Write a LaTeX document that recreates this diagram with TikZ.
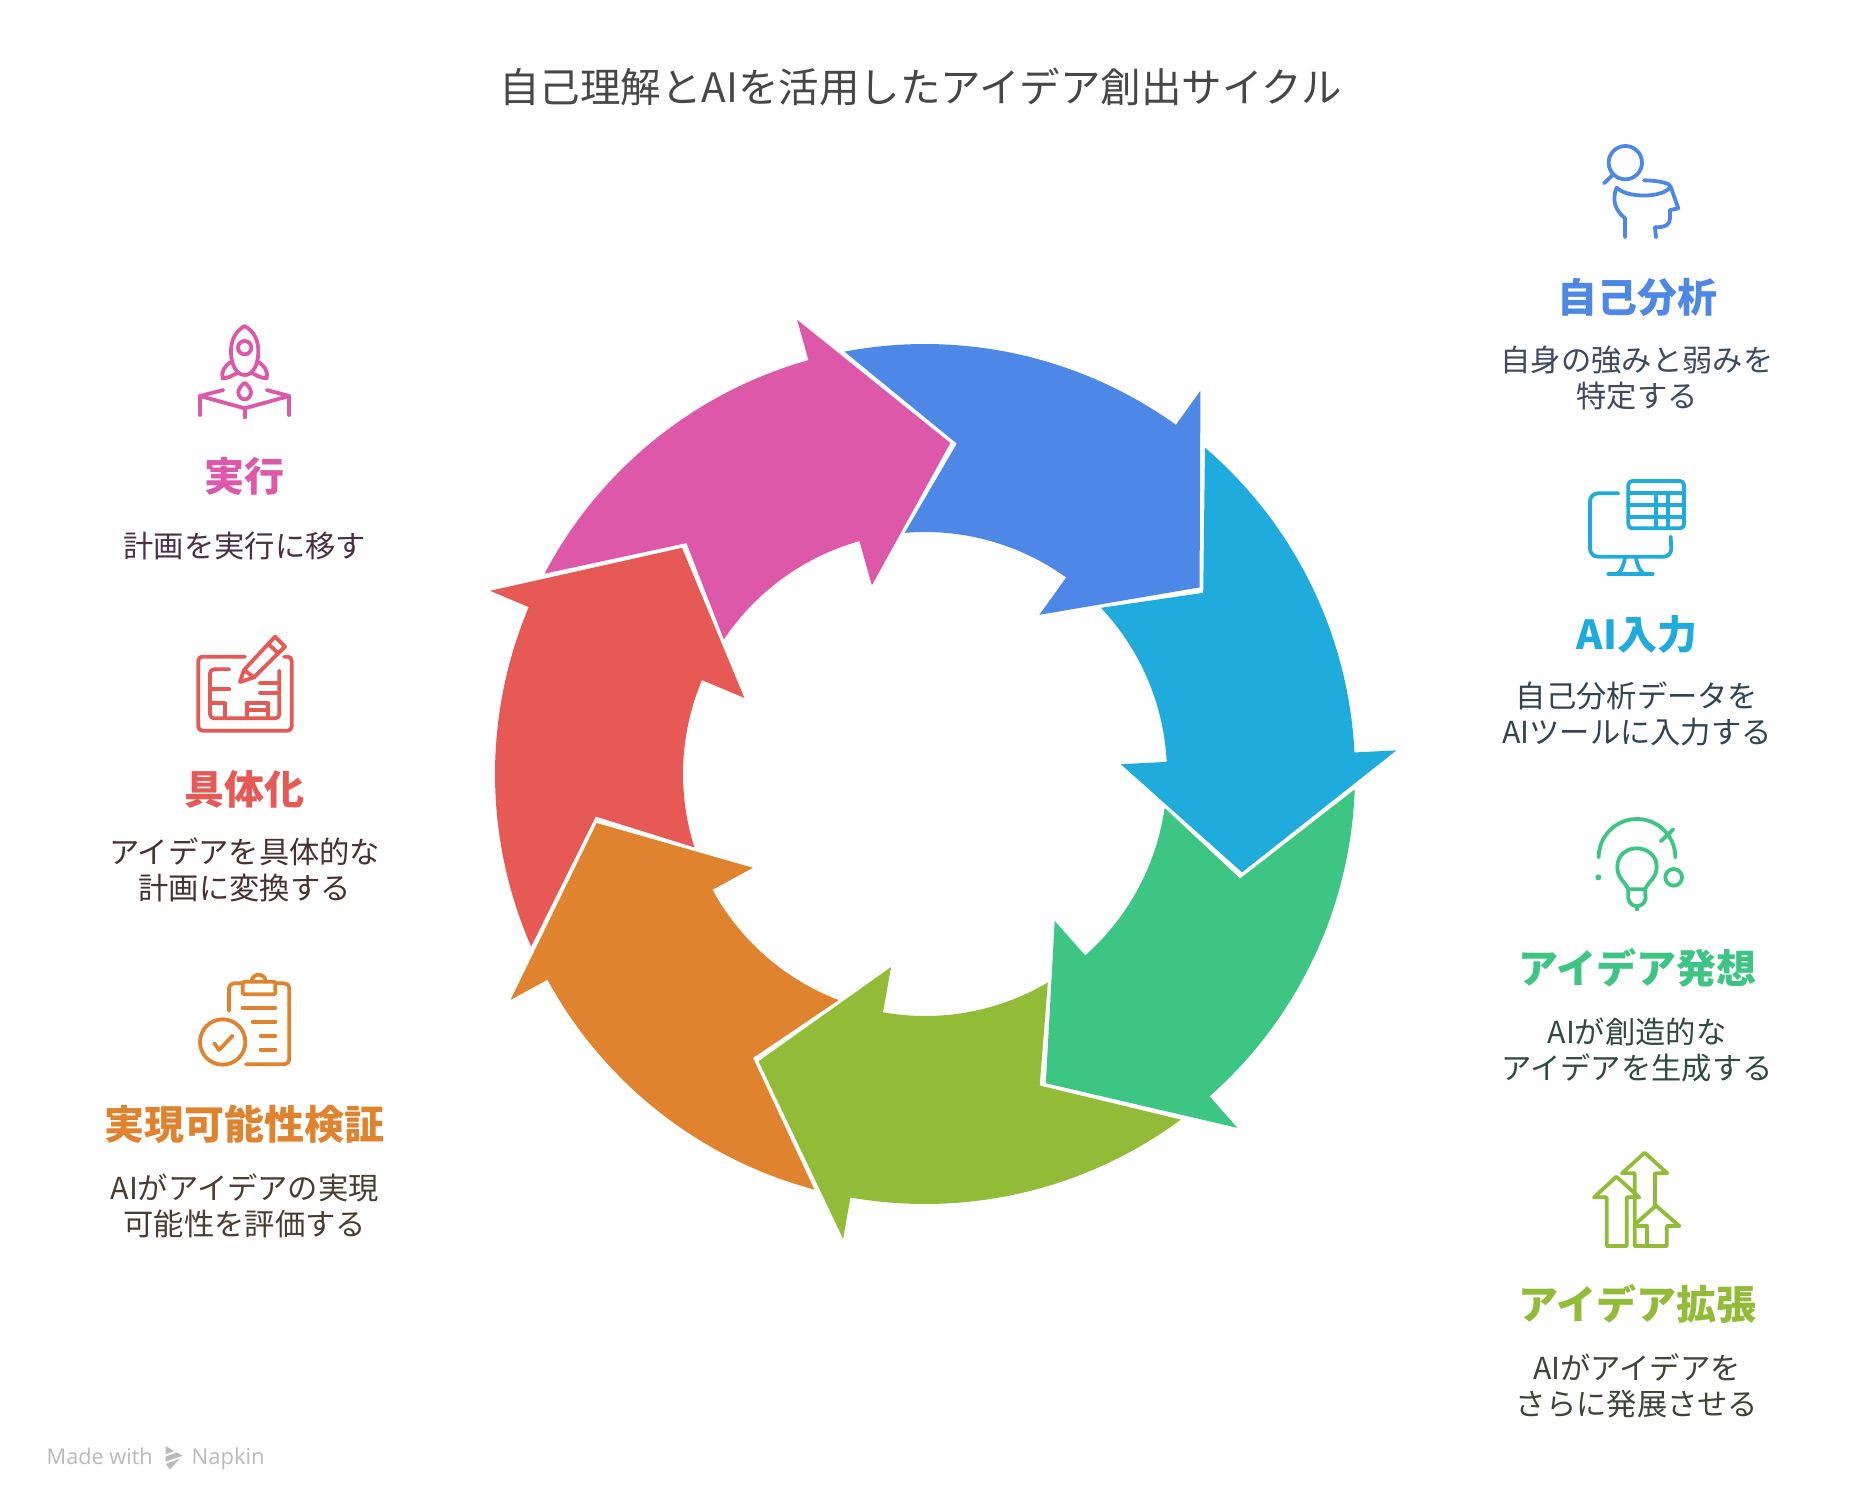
\documentclass[tikz,border=0pt]{standalone}
\usepackage{fontspec}
\setmainfont{Noto Sans CJK JP}
\newfontfamily\latinfont{Open Sans}
\definecolor{cblue}{HTML}{4E88E6}
\definecolor{ccyan}{HTML}{1FABDB}
\definecolor{cgreen}{HTML}{3DC583}
\definecolor{colive}{HTML}{92BC38}
\definecolor{corange}{HTML}{DF832F}
\definecolor{cred}{HTML}{E65955}
\definecolor{cpink}{HTML}{DD58A8}
\definecolor{tblue}{HTML}{3D4A60}
\definecolor{tcyan}{HTML}{2F4552}
\definecolor{tgreen}{HTML}{2F4A42}
\definecolor{tolive}{HTML}{3D4538}
\definecolor{torange}{HTML}{4A3D30}
\definecolor{tred}{HTML}{4A3030}
\definecolor{tpink}{HTML}{4A3040}
\newcommand\cyclearrow[3]{%
  \fill[#1] (#2+67.3:430pt) coordinate (#3tail)
    arc[start angle=#2+67.3,end angle=#2+20.8,radius=430pt]
    -- (#2+20.8:472pt) -- (#2+0.7:332pt) coordinate (#3tip) -- (#2+20.8:196pt) -- (#2+20.8:242pt)
    arc[start angle=#2+20.8,end angle=#2+61.3,radius=242pt]
    -- (#2+51:332pt) -- cycle;}
\tikzset{
  head/.style={font=\fontsize{40}{46}\selectfont\bfseries,anchor=center,inner sep=0pt},
  body/.style={font=\fontsize{30.3}{36}\selectfont,anchor=center,align=center,inner sep=0pt},
  icon/.style={line width=3.8pt,line cap=round,line join=round},
  iconbox/.style={x=0.3333pt,y=-0.3333pt,icon,draw=#1},
}
\begin{document}
\begin{tikzpicture}[x=1pt,y=-1pt]
\path[use as bounding box,fill=white] (0,0) rectangle (1872,1512);
\node[font=\fontsize{40.5}{46}\selectfont,text=black!72,inner sep=0pt] (title) at (920.5,87) {自己理解とAIを活用したアイデア創出サイクル};

\begin{scope}[shift={(925,774)},x=1pt,y=1pt]
\cyclearrow{cblue}{33.5}{a}
\cyclearrow{ccyan}{-17.93}{b}
\cyclearrow{cgreen}{-69.36}{c}
\cyclearrow{colive}{-120.79}{d}
\cyclearrow{corange}{-172.21}{e}
\cyclearrow{cred}{136.36}{f}
\cyclearrow{cpink}{84.93}{g}
\end{scope}

% right column
\node[head,text=cblue] (h1) at (1637,297.3) {自己分析};
\node[body,text=tblue] (b1) at (1637,378) {自身の強みと弱みを\\特定する};
\node[head,text=ccyan] (h2) at (1637,634) {AI入力};
\node[body,text=tcyan] (b2) at (1637,714) {自己分析データを\\AIツールに入力する};
\node[head,text=cgreen] (h3) at (1637,968.3) {アイデア発想};
\node[body,text=tgreen] (b3) at (1637,1049.5) {AIが創造的な\\アイデアを生成する};
\node[head,text=colive] (h4) at (1637,1303.8) {アイデア拡張};
\node[body,text=tolive] (b4) at (1637,1386) {AIがアイデアを\\さらに発展させる};
% left column
\node[head,text=cpink] (h7) at (244.7,476.4) {実行};
\node[body,text=tpink] (b7) at (244.7,545.6) {計画を実行に移す};
\node[head,text=cred] (h6) at (244.7,789) {具体化};
\node[body,text=tred] (b6) at (244.7,870) {アイデアを具体的な\\計画に変換する};
\node[head,text=corange] (h5) at (244.7,1124.7) {実現可能性検証};
\node[body,text=torange] (b5) at (244.7,1205.9) {AIがアイデアの実現\\可能性を評価する};

% icon 1
\begin{scope}[shift={(1450,120)},iconbox=cblue]
\draw (526,128) circle[radius=50];
\draw (490,163) -- (462,190);
\draw (582,181) .. controls (630,182) and (660,190) .. (662,200)
  .. controls (640,235) and (530,235) .. (500,203)
  .. controls (485,240) and (495,270) .. (525,295) -- (525,352);
\draw (662,200) -- (685,265) -- (660,270) -- (660,295) .. controls (660,315) and (645,322) .. (615,322) -- (618,352);
\end{scope}
% icon 2
\begin{scope}[shift={(1500,460)},iconbox=ccyan]
\draw[rounded corners=4pt] (385,63) rectangle (552,205);
\draw (385,98) -- (552,98) (385,135) -- (552,135) (385,170) -- (552,170);
\draw (468,98) -- (468,205) (505,98) -- (505,205);
\draw[rounded corners=8pt] (355,100) -- (270,100) -- (270,290) -- (515,290) -- (512,230);
\draw (375,292) .. controls (372,315) and (365,330) .. (355,340);
\draw (408,292) .. controls (411,315) and (418,330) .. (430,340);
\draw (325,342) -- (458,342);
\end{scope}
% icon 3
\begin{scope}[shift={(1500,800)},iconbox=cgreen]
\draw (296,172) arc[start angle=180,end angle=360,radius=115];
\draw (482,124) -- (520,88);
\fill[cgreen,draw=none] (295,232) circle[radius=9];
\draw (521,232) circle[radius=25];
\draw (385,268) .. controls (372,240) and (352,235) .. (352,200)
  .. controls (352,165) and (380,145) .. (410,145)
  .. controls (440,145) and (470,165) .. (470,200)
  .. controls (470,235) and (448,240) .. (435,268) -- cycle;
\draw (385,268) -- (385,295) .. controls (388,312) and (400,318) .. (410,318)
  .. controls (422,318) and (434,312) .. (437,295) -- (435,268);
\draw (410,318) -- (410,328);
\end{scope}
% icon 4
\begin{scope}[shift={(1500,1140)},iconbox=colive]
\draw (320,318) -- (320,172) -- (282,172) -- (349,110) -- (418,172) -- (380,172) -- (380,318) -- cycle;
\draw (404,318) -- (404,100) -- (366,100) -- (434,38) -- (502,100) -- (465,100) -- (465,197);
\draw (408,250) -- (468,197) -- (538,258) -- (500,258) -- (500,318) -- (404,318);
\draw (404,258) -- (440,258) -- (440,318);
\end{scope}
% icon 5
\begin{scope}[shift={(170,310)},iconbox=cpink]
\draw (224,48) .. controls (195,65) and (183,90) .. (183,125)
  .. controls (183,165) and (200,195) .. (224,195)
  .. controls (248,195) and (265,165) .. (265,125)
  .. controls (265,90) and (253,65) .. (224,48) -- cycle;
\draw (224,113) circle[radius=20];
\draw (186,155) .. controls (165,165) and (152,185) .. (158,205) .. controls (175,205) and (190,195) .. (204,188);
\draw (262,155) .. controls (283,165) and (296,185) .. (290,205) .. controls (273,205) and (258,195) .. (244,188);
\draw (224,218) .. controls (212,228) and (205,238) .. (205,247) .. controls (205,260) and (215,268) .. (224,268)
  .. controls (233,268) and (243,260) .. (243,247) .. controls (243,238) and (236,228) .. (224,218) -- cycle;
\draw (160,240) -- (90,258) -- (224,295) -- (358,258) -- (290,240);
\draw (90,258) -- (90,315) (358,258) -- (358,315) (224,295) -- (224,322);
\end{scope}
% icon 6
\begin{scope}[shift={(170,620)},iconbox=cred]
\draw[rounded corners=4pt] (225,110) -- (85,110) -- (85,332) -- (365,332) -- (365,110) -- (342,110);
\draw[line join=round] (222,150) -- (315,50) -- (345,80) -- (252,172) -- (210,186) -- cycle;
\draw (295,72) -- (325,100) (222,150) -- (252,172);
\draw[rounded corners=4pt] (178,148) -- (120,148) -- (120,295) -- (328,295) -- (328,152);
\draw (122,208) -- (178,208);
\draw (122,250) -- (165,250) -- (165,295);
\draw (270,190) -- (328,190) (270,218) -- (328,218);
\draw (230,295) -- (230,250) -- (295,250) -- (295,295) (230,270) -- (295,270);
\end{scope}
% icon 7
\begin{scope}[shift={(170,960)},iconbox=corange]
\draw[rounded corners=5pt] (177,152) -- (177,70) -- (218,70);
\draw[rounded corners=5pt] (316,70) -- (358,70) -- (358,313) -- (228,313);
\draw[rounded corners=2pt] (218,65) rectangle (316,103);
\draw (245,65) arc[start angle=180,end angle=360,radius=21];
\draw (218,143) -- (316,143) (248,185) -- (316,185) (272,227) -- (316,227) (272,269) -- (316,269);
\draw (158,246) circle[radius=68];
\draw (133,250) -- (147,270) -- (188,227);
\end{scope}
% footer
\node[font=\latinfont\fontsize{21.7}{26}\selectfont,text=black!27,anchor=base west,inner sep=0pt] (made) at (46.5,1464) {Made with};
\node[font=\latinfont\fontsize{22}{26}\selectfont,text=black!27,anchor=base west,inner sep=0pt] (napkin) at (191.5,1464) {Napkin};
\begin{scope}[shift={(0,1420)},x=0.3333pt,y=-0.3333pt]
\fill[black!27] (497,78) -- (522,93) -- (497,103) -- cycle;
\fill[black!27] (497,110) -- (530,97) -- (548,107) -- (497,125) -- cycle;
\fill[black!27] (497,132) -- (540,116) -- (510,148) -- cycle;
\end{scope}
\end{tikzpicture}
\end{document}
